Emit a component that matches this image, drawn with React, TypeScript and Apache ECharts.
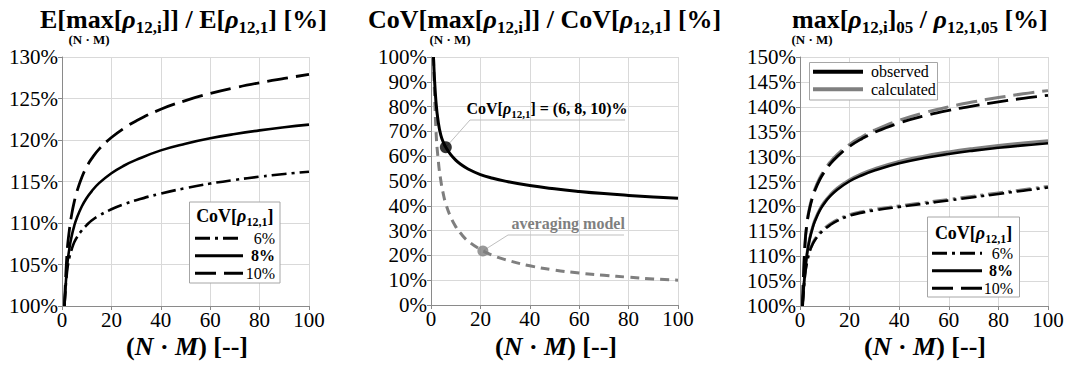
import React, { useEffect, useRef } from "react";
import * as echarts from "echarts";

const FONT = "Liberation Serif, Times New Roman, serif";

// (N·M) sample points
const nm = [1, 2, 3, 4, 5, 6, 8, 10, 12, 15, 20, 25, 30, 40, 50, 60, 70, 80, 90, 100];

// Panel 1: E[max]/E [%]
const p1Cov06 = [100, 104.0, 105.85, 106.9, 107.7, 108.25, 109.1, 109.75, 110.3, 110.9, 111.65, 112.25, 112.75, 113.55, 114.2, 114.75, 115.2, 115.58, 115.9, 116.18];
const p1Cov08 = [100, 104.57, 106.96, 108.54, 109.7, 110.61, 111.99, 113.02, 113.82, 114.8, 116.0, 116.9, 117.6, 118.75, 119.55, 120.2, 120.72, 121.16, 121.53, 121.85];
const p1Cov10 = [100, 106.24, 109.2, 111.16, 112.61, 113.76, 115.49, 116.78, 117.75, 118.9, 120.3, 121.4, 122.3, 123.7, 124.75, 125.6, 126.3, 126.9, 127.42, 127.9];

// Panel 2: CoV[max]/CoV [%]
const p2Observed = [100, 81.98, 73.26, 68.37, 65.6, 63.6, 60.6, 58.4, 56.75, 54.85, 52.6, 51.1, 49.95, 48.15, 46.85, 45.8, 44.92, 44.2, 43.57, 43.0];
const p2Averaging = [100, 70.7, 57.7, 50.0, 44.7, 40.8, 35.4, 31.6, 28.9, 25.8, 22.4, 20.0, 18.3, 15.8, 14.1, 12.9, 12.0, 11.2, 10.5, 10.0];
const p2ObsMarker = [6, 63.6];
const p2AvgMarker = [21, 21.8];

// Panel 3: max_05 / rho_05 [%]
const p3Obs06 = [100, 106.2, 109.2, 111.1, 112.3, 113.2, 114.5, 115.45, 116.2, 117.1, 118.15, 118.75, 119.2, 119.9, 120.55, 121.2, 121.85, 122.5, 123.15, 123.8];
const p3Obs08 = [100, 106.8, 111.0, 113.6, 115.5, 117.0, 119.2, 120.75, 121.95, 123.35, 125.05, 126.25, 127.2, 128.65, 129.7, 130.53, 131.2, 131.77, 132.25, 132.67];
const p3Obs10 = [100, 112.3, 117.2, 119.8, 121.7, 123.2, 125.4, 127.05, 128.4, 130.0, 132.05, 133.6, 134.85, 136.75, 138.15, 139.27, 140.2, 141.0, 141.7, 142.3];
const p3Calc06 = [100, 106.3, 109.35, 111.3, 112.5, 113.4, 114.7, 115.65, 116.4, 117.3, 118.35, 118.95, 119.4, 120.1, 120.75, 121.4, 122.05, 122.7, 123.35, 124.0];
const p3Calc08 = [100, 106.9, 111.15, 113.8, 115.7, 117.25, 119.45, 121.0, 122.2, 123.65, 125.35, 126.6, 127.55, 129.05, 130.1, 130.95, 131.65, 132.25, 132.75, 133.2];
const p3Calc10 = [100, 112.4, 117.4, 120.1, 122.0, 123.5, 125.75, 127.4, 128.8, 130.4, 132.45, 134.0, 135.3, 137.3, 138.8, 140.0, 141.0, 141.85, 142.6, 143.25];

const legendLabels = ["6%", "8%", "10%"];

const BLACK = "#000000";
const GRAY = "#7f7f7f";
const AXIS = "#8a8a8a";
const GRID = "#d9d9d9";

const DASHDOT = [15, 5, 3, 5];
const DASH = [21, 8];

function lineSeries(idx: number, ys: number[], color: string, width: number, type: any, z = 3) {
  return {
    type: "line",
    xAxisIndex: idx,
    yAxisIndex: idx,
    data: nm.map((x, i) => [x, ys[i]]),
    showSymbol: false,
    symbol: "none",
    smooth: 0.45,
    silent: true,
    z,
    lineStyle: { color, width, type, cap: "butt", join: "round" },
  };
}

function richSet(size: number, sub: number, lh: number, color: string) {
  return {
    b: { fontFamily: FONT, fontWeight: "bold", fontSize: size, lineHeight: lh, fill: color },
    r: { fontFamily: FONT, fontWeight: "bold", fontStyle: "italic", fontSize: size, lineHeight: lh, fill: color },
    s: { fontFamily: FONT, fontWeight: "bold", fontSize: sub, lineHeight: sub, verticalAlign: "bottom", fill: color },
  };
}

export default function App() {
  const ref = useRef<HTMLDivElement>(null);
  useEffect(() => {
    const chart = echarts.init(ref.current!, null, { renderer: "svg" });
    const grids = [
      { left: 62, top: 57, width: 247, height: 249 },
      { left: 431, top: 57, width: 247, height: 248 },
      { left: 800, top: 57, width: 248, height: 249 },
    ];
    const yRanges = [
      [100, 130, 5],
      [0, 100, 10],
      [100, 150, 5],
    ];
    const xAxis = grids.map((_, i) => ({
      type: "value",
      gridIndex: i,
      min: 0,
      max: 100,
      interval: 20,
      axisLine: { show: true, onZero: false, lineStyle: { color: AXIS, width: 1 } },
      axisTick: { show: true, length: 4, lineStyle: { color: AXIS } },
      splitLine: { show: true, lineStyle: { color: GRID, width: 1 } },
      axisLabel: { fontFamily: FONT, fontSize: 21, color: "#000", margin: 5, lineHeight: 18 },
    }));
    const yAxis = yRanges.map((r, i) => ({
      type: "value",
      gridIndex: i,
      min: r[0],
      max: r[1],
      interval: r[2],
      axisLine: { show: true, onZero: false, lineStyle: { color: AXIS, width: 1 } },
      axisTick: { show: true, length: 4, lineStyle: { color: AXIS } },
      splitLine: { show: true, lineStyle: { color: GRID, width: 1 } },
      axisLabel: { fontFamily: FONT, fontSize: 21, color: "#000", margin: 4, formatter: "{value}%" },
    }));

    const series: any[] = [
      lineSeries(0, p1Cov06, BLACK, 2.6, DASHDOT),
      lineSeries(0, p1Cov08, BLACK, 2.6, "solid"),
      lineSeries(0, p1Cov10, BLACK, 2.8, DASH),
      lineSeries(1, p2Averaging, GRAY, 3, [9, 6]),
      lineSeries(1, p2Observed, BLACK, 3, "solid"),
      {
        type: "scatter",
        xAxisIndex: 1,
        yAxisIndex: 1,
        data: [p2ObsMarker],
        symbolSize: 12,
        itemStyle: { color: BLACK },
        z: 5,
        silent: true,
      },
      {
        type: "scatter",
        xAxisIndex: 1,
        yAxisIndex: 1,
        data: [p2AvgMarker],
        symbolSize: 11,
        itemStyle: { color: GRAY },
        z: 5,
        silent: true,
      },
      lineSeries(2, p3Calc06, GRAY, 3, DASHDOT, 2),
      lineSeries(2, p3Calc08, GRAY, 3, "solid", 2),
      lineSeries(2, p3Calc10, GRAY, 3, DASH, 2),
      lineSeries(2, p3Obs06, BLACK, 2.6, DASHDOT),
      lineSeries(2, p3Obs08, BLACK, 2.6, "solid"),
      lineSeries(2, p3Obs10, BLACK, 2.8, DASH),
    ];

    chart.setOption({
      animation: false,
      backgroundColor: "#ffffff",
      grid: grids,
      xAxis,
      yAxis,
      series,
    });

    const obsPx = chart.convertToPixel({ seriesIndex: 5 }, p2ObsMarker) as number[];
    const avgPx = chart.convertToPixel({ seriesIndex: 6 }, p2AvgMarker) as number[];

    const titleRich = richSet(26, 17, 34, "#000");
    const g: any[] = [];
    const addText = (x: number, y: number, text: string, rich: any, align = "left", extra: any = {}) => {
      g.push({ type: "text", x, y, z: 20, silent: true, style: { text, rich, align, verticalAlign: "middle", ...extra } });
    };
    // titles
    addText(40, 19, "{b|E[max[}{r|ρ}{s|12,i}{b|]] / E[}{r|ρ}{s|12,1}{b|] [%]}", titleRich);
    addText(368, 19, "{b|CoV[max[}{r|ρ}{s|12,i}{b|]] / CoV[}{r|ρ}{s|12,1}{b|] [%]}", titleRich);
    addText(792, 19, "{b|max[}{r|ρ}{s|12,i}{b|]}{s|05}{b| / }{r|ρ}{s|12,1,05}{b| [%]}", titleRich);
    const nmStyle = { fontFamily: FONT, fontWeight: "bold", fontSize: 13, lineHeight: 12, fill: "#000" };
    [89, 450, 812].forEach((cx) => {
      g.push({ type: "text", x: cx, y: 39.5, z: 20, silent: true, style: { text: "(N · M)", align: "center", verticalAlign: "middle", ...nmStyle } });
    });
    // x axis titles
    const xtRich = {
      p: { fontFamily: FONT, fontWeight: "bold", fontSize: 26, lineHeight: 22, fill: "#000" },
      i: { fontFamily: FONT, fontWeight: "bold", fontStyle: "italic", fontSize: 26, lineHeight: 22, fill: "#000" },
    };
    [187, 556, 925].forEach((cx) => addText(cx, 346, "{p|(}{i|N}{p| · }{i|M}{p|) [--]}", xtRich, "center"));

    // legends (CoV)
    const legRich = richSet(18, 12, 24, "#000");
    const addCovLegend = (bx: number, by: number, bw: number, bh: number, ty: number, lx1: number, lx2: number, tx: number, ys: number[]) => {
      g.push({ type: "rect", z: 15, silent: true, shape: { x: bx, y: by, width: bw, height: bh }, style: { fill: "#fff", stroke: "#a6a6a6", lineWidth: 1 } });
      addText((bx + bx + bw) / 2, ty, "{b|CoV[}{r|ρ}{s|12,1}{b|]}", legRich, "center");
      const dashes = [DASHDOT, null, DASH];
      ys.forEach((yy, k) => {
        g.push({
          type: "line", z: 20, silent: true,
          shape: { x1: lx1, y1: yy, x2: lx2, y2: yy },
          style: { stroke: BLACK, lineWidth: 3, lineDash: dashes[k] || undefined },
        });
        g.push({
          type: "text", x: tx, y: yy, z: 20, silent: true,
          style: { text: legendLabels[k], align: "right", verticalAlign: "middle", fontFamily: FONT, fontSize: 16, fontWeight: k === 1 ? "bold" : "normal", fill: "#000" },
        });
      });
    };
    addCovLegend(189.5, 202, 90.5, 81, 216, 195, 243, 275, [238.3, 255.7, 273.3]);
    addCovLegend(927.5, 217, 92, 80, 232.5, 932, 982, 1013, [253.3, 270.7, 288.3]);

    // observed / calculated legend
    g.push({ type: "rect", z: 15, silent: true, shape: { x: 809.5, y: 62.5, width: 128, height: 37.5 }, style: { fill: "#fff", stroke: "#a6a6a6", lineWidth: 1 } });
    [["observed", BLACK, 71.7], ["calculated", GRAY, 89.3]].forEach(([label, col, yy]: any) => {
      g.push({ type: "line", z: 20, silent: true, shape: { x1: 813, y1: yy, x2: 863, y2: yy }, style: { stroke: col, lineWidth: 4 } });
      g.push({ type: "text", x: 871, y: yy, z: 20, silent: true, style: { text: label, align: "left", verticalAlign: "middle", fontFamily: FONT, fontSize: 16, fill: "#000" } });
    });

    // panel 2 annotations
    const annRich = richSet(16, 11, 22, "#000");
    addText(466.5, 108, "{b|CoV[}{r|ρ}{s|12,1}{b|] = (6, 8, 10)%}", annRich);
    g.push({ type: "polyline", z: 1, silent: true, shape: { points: [obsPx, [470, 120], [625, 120]] }, style: { stroke: "#bfbfbf", lineWidth: 1, fill: null } });
    g.push({
      type: "text", x: 511.5, y: 223.5, z: 20, silent: true,
      style: { text: "averaging model", align: "left", verticalAlign: "middle", fontFamily: FONT, fontWeight: "bold", fontSize: 16, fill: GRAY },
    });
    g.push({ type: "polyline", z: 1, silent: true, shape: { points: [avgPx, [508, 235], [624, 235]] }, style: { stroke: "#bfbfbf", lineWidth: 1, fill: null } });

    chart.setOption({ graphic: g });
    return () => chart.dispose();
  }, []);
  return <div ref={ref} style={{ position: "absolute", left: 0, top: 0, width: 1070, height: 365, background: "#fff" }} />;
}
